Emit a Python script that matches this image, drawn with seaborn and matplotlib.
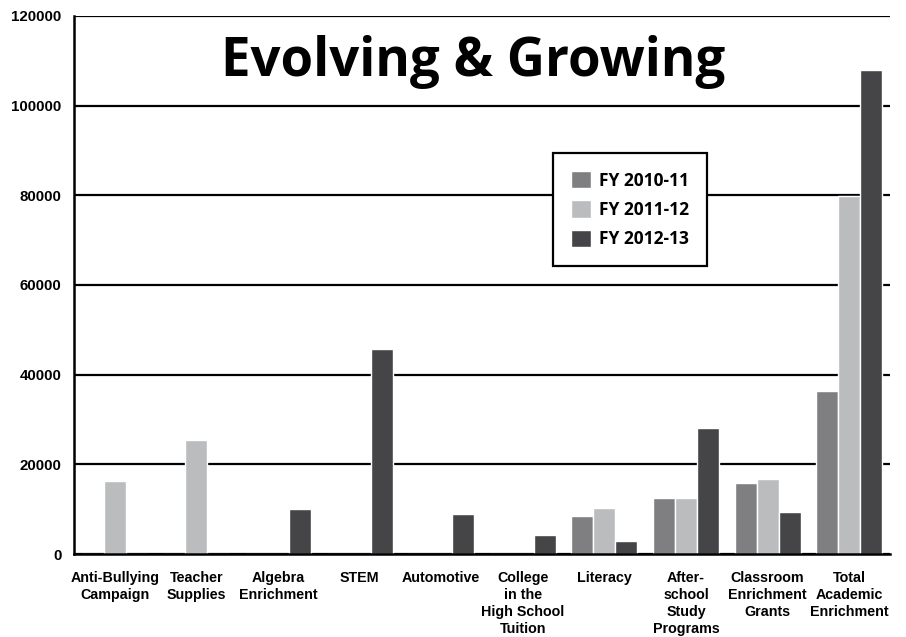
import pandas as pd
import matplotlib.pyplot as plt
import seaborn as sns

# Chart data
categories = ["Anti-Bullying\nCampaign", "Teacher\nSupplies", "Algebra\nEnrichment", "STEM",
              "Automotive", "College\nin the\nHigh School\nTuition", "Literacy",
              "After-\nschool\nStudy\nPrograms", "Classroom\nEnrichment\nGrants",
              "Total\nAcademic\nEnrichment"]
series = ["FY 2010-11", "FY 2011-12", "FY 2012-13"]
fy_2010_11 = [0, 0, 0, 0, 0, 0, 8500, 12600, 15900, 36400]
fy_2011_12 = [16300, 25400, 0, 0, 0, 0, 10300, 12600, 16700, 79900]
fy_2012_13 = [0, 0, 10000, 45700, 8900, 4200, 2900, 28100, 9400, 108000]
y_ticks = [0, 20000, 40000, 60000, 80000, 100000, 120000]
colors = ["#7f7f82", "#bbbcbe", "#454547"]

df = pd.DataFrame({"category": categories * 3,
                   "series": [s for s in series for _ in categories],
                   "value": fy_2010_11 + fy_2011_12 + fy_2012_13})

sns.set_style("white")
plt.rcParams["font.family"] = ["Liberation Sans", "DejaVu Sans"]
plt.rcParams["text.color"] = "black"
plt.rcParams["xtick.color"] = "black"
plt.rcParams["ytick.color"] = "black"

fig = plt.figure(figsize=(9.06, 6.37), dpi=100)
ax = fig.add_axes([74 / 906, 1 - 554 / 637, 816 / 906, 538 / 637])

sns.barplot(data=df, x="category", y="value", hue="series", hue_order=series,
            palette=colors, width=0.81, saturation=1, ax=ax, zorder=3, legend=True)

ax.set_xlim(-0.5, 9.5)
ax.set_ylim(0, 120000)
ax.set_yticks(y_ticks)
ax.set_yticklabels([str(v) for v in y_ticks], fontsize=10.8, fontweight="bold", color="black")
ax.yaxis.grid(True, color="black", linewidth=1.6, zorder=0)
ax.set_axisbelow(True)
ax.set_xlabel("")
ax.set_ylabel("")

for s in ["top", "right"]:
    ax.spines[s].set_visible(False)
for s in ["left", "bottom"]:
    ax.spines[s].set_color("black")
    ax.spines[s].set_linewidth(1.8)
    ax.spines[s].set_zorder(4)

# ticks between categories
ax.set_xticks([i + 0.5 for i in range(-1, 10)], minor=True)
ax.tick_params(axis="x", which="minor", direction="out", length=8, width=1.8, color="black")
ax.tick_params(axis="x", which="major", length=0, pad=12)
ax.tick_params(axis="y", direction="out", length=4, width=1.8, color="black", pad=5)
ax.set_xticks(range(len(categories)))
ax.set_xticklabels(categories, fontsize=10.3, fontweight="bold", color="black",
                   linespacing=1.27, va="top")

ax.text(0.489, 0.915, "Evolving & Growing", transform=ax.transAxes, ha="center", va="center",
        fontsize=38, fontweight="bold", family="Open Sans", color="black")

leg = ax.legend(loc="upper left", bbox_to_anchor=((553 - 74) / 816, 1 - (153 - 16) / 538),
                frameon=True, fancybox=False, edgecolor="black", framealpha=1,
                prop={"family": "Open Sans", "weight": "bold", "size": 12.5},
                handlelength=1.15, handleheight=1.15, borderpad=1.05, labelspacing=0.62,
                handletextpad=0.45, borderaxespad=0)
leg.get_frame().set_linewidth(1.6)
leg.set_zorder(5)
for t in leg.get_texts():
    t.set_color("black")

fig.savefig("out.png", dpi=100)
